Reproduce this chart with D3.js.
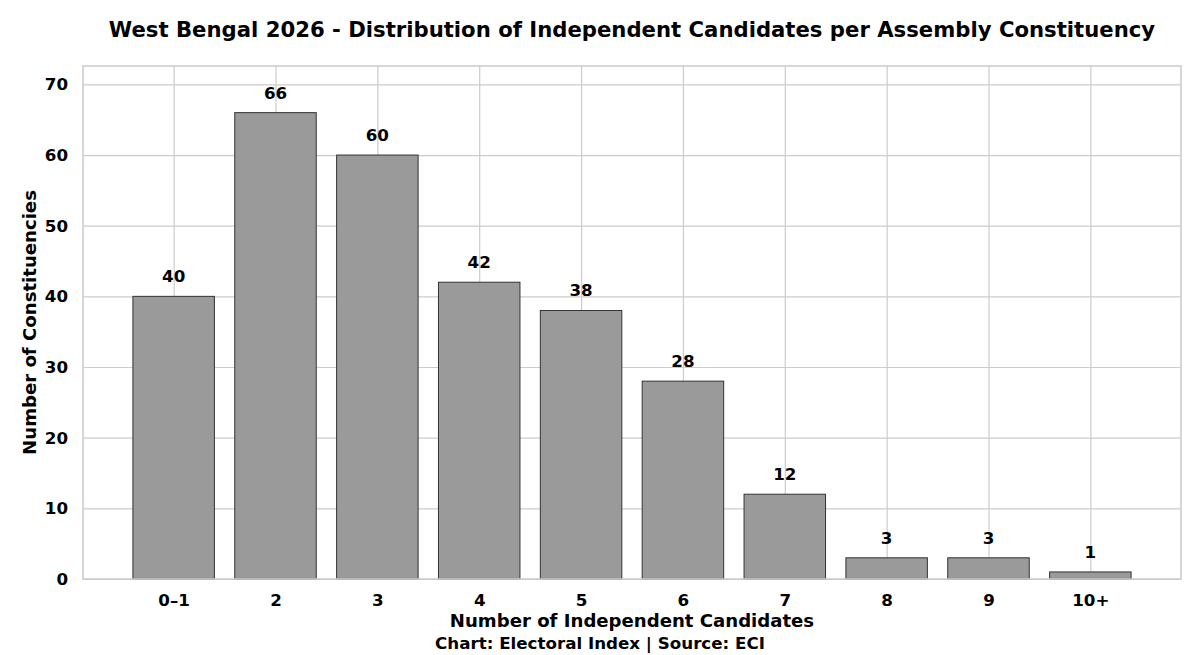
<!doctype html>
<html>
<head>
<meta charset="utf-8">
<title>West Bengal 2026 - Independent Candidates</title>
<script src="https://d3js.org/d3.v7.min.js"></script>
<style>
  body { margin: 0; background: #fff; }
  svg { display: block; font-family: "DejaVu Sans", sans-serif; font-weight: bold; }
  .grid line { stroke: #cccccc; stroke-width: 1.2; }
  .grid path { display: none; }
  .tick text { fill: #000; font-family: "DejaVu Sans", sans-serif; font-size: 16.7px; font-weight: bold; }
</style>
</head>
<body>
<script>
// data
var categories = ["0–1", "2", "3", "4", "5", "6", "7", "8", "9", "10+"];
var counts = [40, 66, 60, 42, 38, 28, 12, 3, 3, 1];
var yTicks = [0, 10, 20, 30, 40, 50, 60, 70];

var W = 1200, H = 655;
var margin = {top: 66, right: 19, bottom: 76, left: 83},
    width = W - margin.left - margin.right,
    height = H - margin.top - margin.bottom;

var svg = d3.select("body").append("svg")
    .attr("width", W)
    .attr("height", H);

var g = svg.append("g")
    .attr("transform", "translate(" + margin.left + "," + margin.top + ")");

// index scale like matplotlib's default 5% margins around 0.8-wide bars
var x = d3.scaleLinear()
    .domain([-0.89, categories.length - 1 + 0.89])
    .range([0, width]);
var y = d3.scaleLinear()
    .domain([0, d3.max(counts) * 1.1])
    .range([height, 0]);

// grid
g.append("g")
    .attr("class", "grid")
    .call(d3.axisLeft(y).tickValues(yTicks).tickSize(-width).tickFormat(""));
g.append("g")
    .attr("class", "grid")
    .attr("transform", "translate(0," + height + ")")
    .call(d3.axisBottom(x).tickValues(d3.range(categories.length)).tickSize(height).tickFormat(""))
    .selectAll("line").attr("y2", -height);

// bars
g.selectAll(".bar")
    .data(counts)
    .enter().append("rect")
    .attr("class", "bar")
    .attr("x", function(d, i) { return x(i - 0.4); })
    .attr("width", function() { return x(0.4) - x(-0.4); })
    .attr("y", function(d) { return y(d); })
    .attr("height", function(d) { return height - y(d); })
    .attr("fill", "#9a9a9a")
    .attr("stroke", "#333333")
    .attr("stroke-width", 1);

// value labels
g.selectAll(".val")
    .data(counts)
    .enter().append("text")
    .attr("class", "val")
    .attr("x", function(d, i) { return x(i); })
    .attr("y", function(d) { return y(d) - 14; })
    .attr("text-anchor", "middle")
    .attr("font-size", 16.7)
    .text(function(d) { return d; });

// frame
g.append("rect")
    .attr("width", width)
    .attr("height", height)
    .attr("fill", "none")
    .attr("stroke", "#cccccc")
    .attr("stroke-width", 1.6);

// tick labels
var yAxis = g.append("g")
    .call(d3.axisLeft(y).tickValues(yTicks).tickSize(0).tickPadding(15));
yAxis.select(".domain").remove();

var xAxis = g.append("g")
    .attr("transform", "translate(0," + height + ")")
    .call(d3.axisBottom(x).tickValues(d3.range(categories.length))
      .tickFormat(function(i) { return categories[i]; })
      .tickSize(0).tickPadding(15));
xAxis.select(".domain").remove();

// titles
svg.append("text")
    .attr("x", margin.left + width / 2)
    .attr("y", 36.5)
    .attr("text-anchor", "middle")
    .attr("font-size", 21.2)
    .text("West Bengal 2026 - Distribution of Independent Candidates per Assembly Constituency");

svg.append("text")
    .attr("x", margin.left + width / 2)
    .attr("y", 627)
    .attr("text-anchor", "middle")
    .attr("font-size", 18.1)
    .text("Number of Independent Candidates");

svg.append("text")
    .attr("transform", "translate(36," + (margin.top + height / 2) + ") rotate(-90)")
    .attr("text-anchor", "middle")
    .attr("font-size", 18.1)
    .text("Number of Constituencies");

svg.append("text")
    .attr("x", W / 2)
    .attr("y", 648.5)
    .attr("text-anchor", "middle")
    .attr("font-size", 16.7)
    .text("Chart: Electoral Index | Source: ECI");
</script>
</body>
</html>
